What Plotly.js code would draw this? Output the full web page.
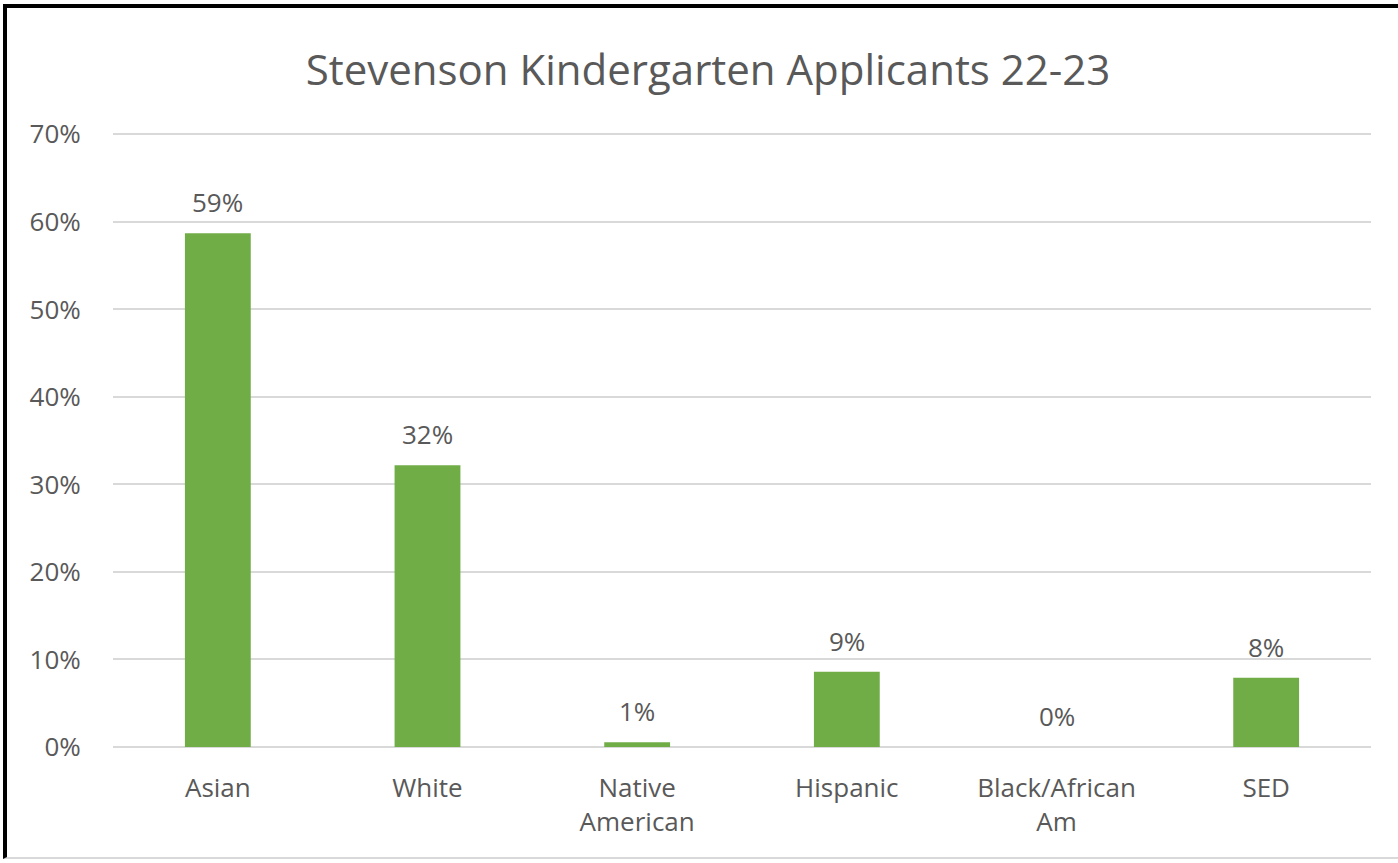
<!DOCTYPE html>
<html>
<head>
<meta charset="utf-8">
<script src="https://cdn.plot.ly/plotly-3.0.1.min.js"></script>
<style>
  html, body { margin: 0; padding: 0; background: #ffffff; overflow: hidden; }
  #frame { position: absolute; left: 3px; top: 4px; width: 1400px; height: 855px;
           border-top: 4px solid #000; border-left: 4px solid #000; border-bottom: 2px solid #d9d9d9; box-sizing: border-box; }
  #chart { position: absolute; left: 0; top: 0; width: 1398px; height: 863px; }
</style>
</head>
<body>
<div id="frame"></div>
<div id="chart"></div>
<script>
const categories = ['Asian', 'White', 'Native<br>American', 'Hispanic', 'Black/African<br>Am', 'SED'];
const shares = [0.587, 0.322, 0.0055, 0.086, 0.0, 0.079];
const yTickValues = [0, 0.1, 0.2, 0.3, 0.4, 0.5, 0.6, 0.7];

const FONT = '"Open Sans", "Noto Sans", sans-serif';
const TEXT = '#595959';

const trace = {
  type: 'bar',
  x: categories,
  y: shares,
  marker: { color: '#70ad47' },
  hoverinfo: 'skip'
};

const pct = v => Math.round(v * 100) + '%';
const labels = categories.map((c, i) => ({
  x: c, y: shares[i], xref: 'x', yref: 'y',
  text: pct(shares[i]),
  showarrow: false,
  yanchor: 'middle', xanchor: 'center',
  yshift: 31,
  font: { family: FONT, size: 26, color: TEXT }
}));

const layout = {
  width: 1398,
  height: 863,
  paper_bgcolor: 'rgba(0,0,0,0)',
  plot_bgcolor: 'rgba(0,0,0,0)',
  margin: { l: 113, r: 27, t: 130, b: 116 },
  bargap: 0.686,
  showlegend: false,
  annotations: labels,
  title: {
    text: 'Stevenson Kindergarten Applicants 22-23',
    font: { family: FONT, size: 42, color: TEXT },
    x: 708 / 1398, xanchor: 'center', xref: 'container',
    y: 1 - 70 / 863, yanchor: 'middle', yref: 'container'
  },
  xaxis: {
    type: 'category',
    showgrid: false,
    zeroline: false,
    showline: false,
    ticks: 'outside',
    ticklen: 18,
    tickcolor: 'rgba(0,0,0,0)',
    tickfont: { family: FONT, size: 26, color: TEXT }
  },
  yaxis: {
    range: [0, 0.705],
    tickvals: yTickValues,
    tickformat: '.0%',
    showgrid: true,
    gridcolor: '#d9d9d9',
    gridwidth: 2,
    zeroline: true,
    zerolinecolor: '#d9d9d9',
    zerolinewidth: 2,
    showline: false,
    ticks: 'outside',
    ticklen: 26,
    tickcolor: 'rgba(0,0,0,0)',
    tickfont: { family: FONT, size: 26, color: TEXT }
  },
  font: { family: FONT, color: TEXT }
};

Plotly.newPlot('chart', [trace], layout, { displayModeBar: false, staticPlot: true });
</script>
</body>
</html>
